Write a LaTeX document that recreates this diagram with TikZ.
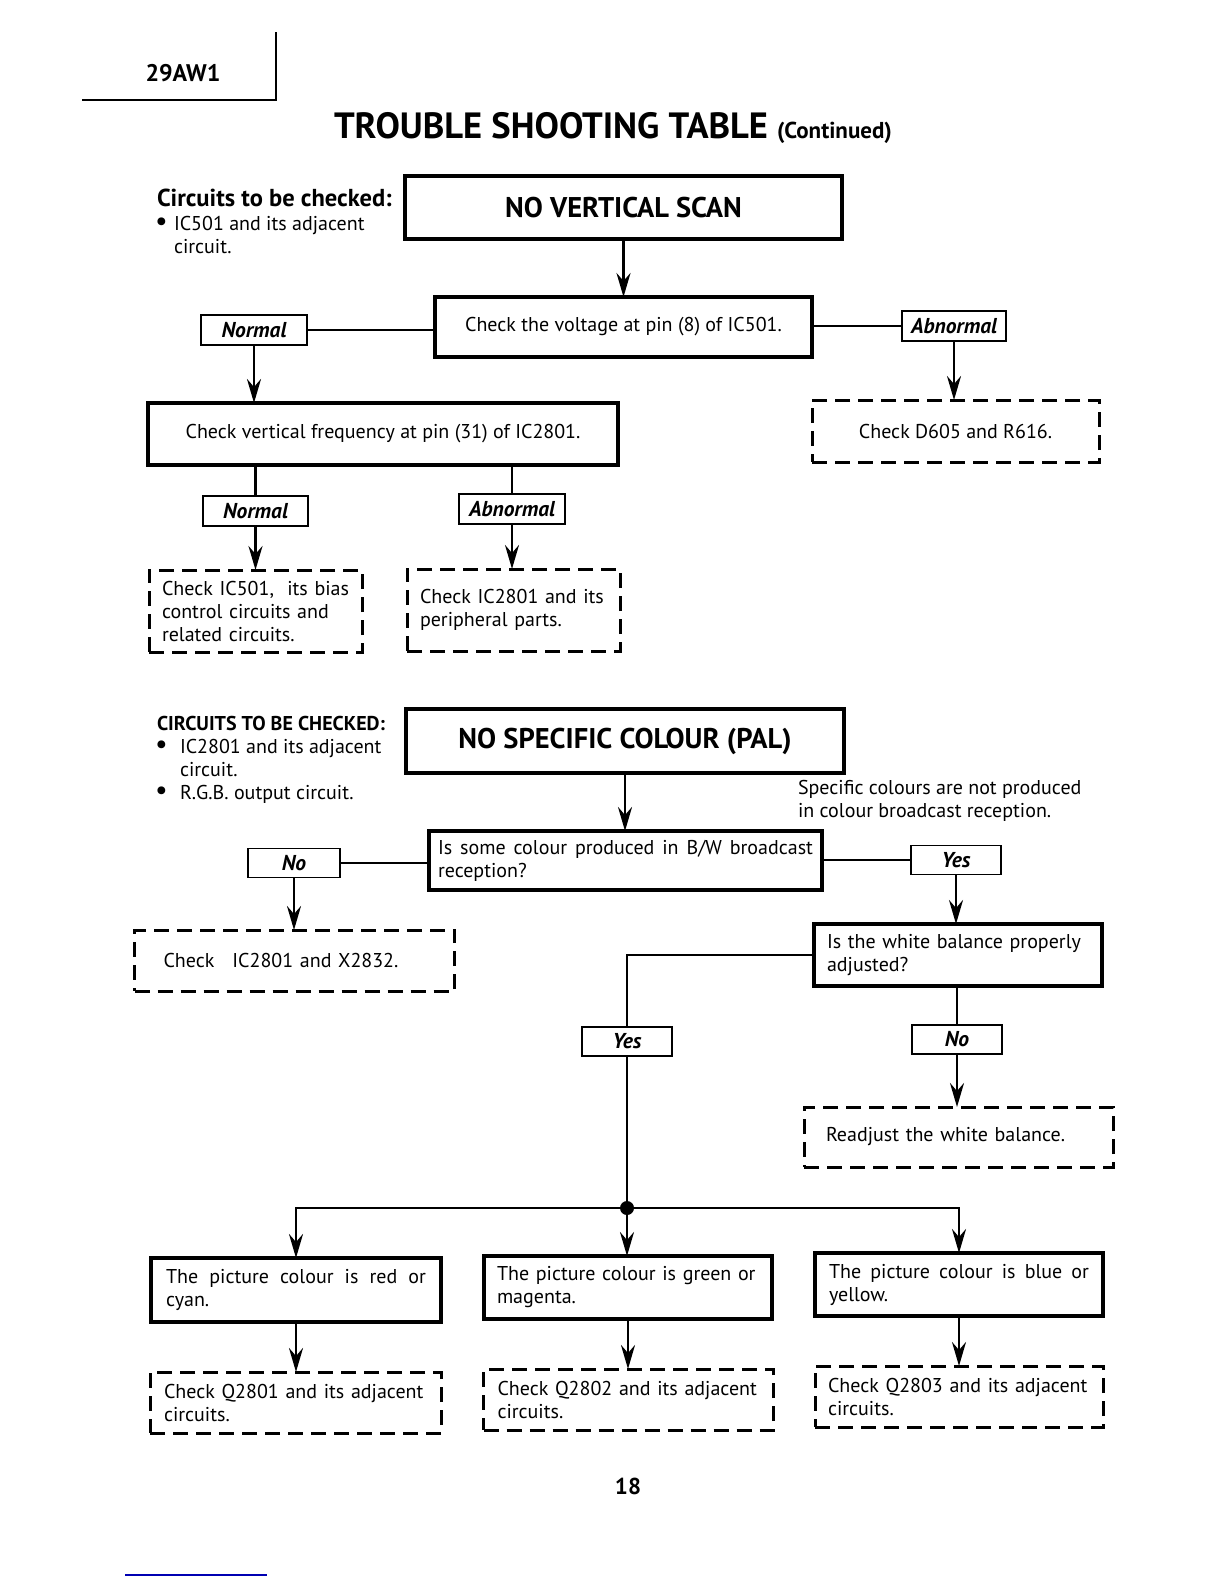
\documentclass[tikz,border=0pt]{standalone}
\usepackage{fontspec}
\setmainfont{PT Sans}
\usetikzlibrary{arrows.meta,calc}
\newcommand{\bodyf}{\fontsize{20}{23}\selectfont}
\newcommand{\tline}[1]{\mbox{#1}}
\newcommand{\bul}{{\fontsize{28}{23}\selectfont\textbullet}}
\begin{document}
\begin{tikzpicture}[x=1pt,y=-1pt,
  every node/.style={inner sep=0pt, outer sep=0pt},
  bigbox/.style={draw, line width=4pt, font=\fontsize{28.5}{32}\selectfont\bfseries, align=center},
  mbox/.style={draw, line width=3.2pt, font=\bodyf, align=left},
  lbl/.style={draw, line width=1.4pt, font=\fontsize{21.5}{24}\selectfont\bfseries\itshape, align=center},
  dbox/.style={draw, line width=3pt, dash pattern=on 15pt off 8pt, font=\bodyf, align=left},
  conn/.style={line width=2.8pt},
  arr/.style={conn, -{Stealth[length=24pt,width=14pt,inset=8pt]}},
  txt/.style={anchor=base west, font=\bodyf}
]
\useasboundingbox (0,0) rectangle (1224,1584);
\fill[white] (0,0) rectangle (1224,1584);

% header
\draw[line width=1.5pt] (82,100) -- (276,100) -- (276,32);
\node[anchor=base, font=\fontsize{24}{28}\selectfont\bfseries] (model) at (183,82) {29AW1};
\node[anchor=base west] (title) at (334,139) {\fontsize{36.5}{40}\selectfont\bfseries TROUBLE SHOOTING TABLE {\fontsize{23}{26}\selectfont (Continued)}};

% ===== Section 1 =====
\node[anchor=base west, font=\fontsize{24.5}{28}\selectfont\bfseries] (c1h) at (157,206) {Circuits to be checked:};
\node[txt] (c1b) at (155,230) {\bul};
\node[txt] (c1l1) at (174,230) {IC501 and its adjacent};
\node[txt] (c1l2) at (174,253) {circuit.};

\node[bigbox, minimum width=437pt, minimum height=63pt] (nvs) at (623.5,207.5) {NO VERTICAL SCAN};
\node[mbox, minimum width=377pt, minimum height=60pt, align=center] (cv) at (623.5,327) {Check the voltage at pin (8) of IC501.};
\node[lbl, minimum width=106pt, minimum height=30pt] (n1) at (254,330) {Normal};
\node[lbl, minimum width=104pt, minimum height=30pt] (a1) at (954,326) {Abnormal};
\node[dbox, minimum width=287pt, minimum height=62pt, align=center] (d605) at (955.5,431) {Check D605 and R616.};
\node[mbox, minimum width=470pt, minimum height=62pt, align=center] (cvf) at (383,434) {Check vertical frequency at pin (31) of IC2801.};
\node[lbl, minimum width=105pt, minimum height=30pt] (n2) at (255.5,511) {Normal};
\node[lbl, minimum width=106pt, minimum height=30pt] (a2) at (512,509) {Abnormal};
\node[dbox, minimum width=213pt, minimum height=82pt, text width=187pt, inner xsep=13pt] (d501) at (255.5,611) {\tline{Check IC501,\ \ its bias}\\\tline{control circuits and}\\\tline{related circuits.}};
\node[dbox, minimum width=213pt, minimum height=82pt, text width=187pt, inner xsep=13pt] (d2801) at (513.5,610) {\tline{Check IC2801 and its}\\\tline{peripheral parts.}};

\draw[arr] (nvs.south) -- (cv.north);
\draw[conn] (n1.east) -- (n1.east -| cv.west);
\draw[conn] (a1.west) -- (a1.west -| cv.east);
\draw[arr] (n1.south) -- (n1.south |- cvf.north);
\draw[arr] (a1.south) -- (a1.south |- d605.north);
\draw[conn] (n2.north |- cvf.south) -- (n2.north);
\draw[conn] (a2.north |- cvf.south) -- (a2.north);
\draw[arr] (n2.south) -- (n2.south |- d501.north);
\draw[arr] (a2.south) -- (a2.south |- d2801.north);

% ===== Section 2 =====
\node[anchor=base west, font=\fontsize{20}{23}\selectfont\bfseries] (c2h) at (157,730) {CIRCUITS TO BE CHECKED:};
\node[txt] (c2b1) at (155,753) {\bul};
\node[txt] (c2l1) at (180,753) {IC2801 and its adjacent};
\node[txt] (c2l2) at (180,776) {circuit.};
\node[txt] (c2b2) at (155,799) {\bul};
\node[txt] (c2l3) at (180,799) {R.G.B. output circuit.};
\node[txt] (spec1) at (798,794) {Specific colours are not produced};
\node[txt] (spec2) at (798,817) {in colour broadcast reception.};

\node[bigbox, minimum width=438pt, minimum height=64pt] (nsc) at (625,741) {NO SPECIFIC COLOUR (PAL)};
\node[mbox, minimum width=393pt, minimum height=59pt, text width=375pt, inner xsep=9pt, align=justify] (some) at (625.5,860.5) {Is some colour produced in B/W broadcast\linebreak reception?};
\node[lbl, minimum width=92pt, minimum height=29pt] (no1) at (294,863) {No};
\node[dbox, minimum width=291pt, minimum height=61pt, text width=262pt, inner xsep=29pt] (dx) at (294.5,960.5) {\tline{Check\hspace{0.9em}IC2801 and X2832.}};
\node[lbl, minimum width=90pt, minimum height=29pt] (yes1) at (956,860) {Yes};
\node[mbox, minimum width=288pt, minimum height=62pt, text width=262pt, inner xsep=13pt] (wb) at (958,955) {\tline{Is the white balance properly}\\\tline{adjusted?}};
\node[lbl, minimum width=90pt, minimum height=29pt] (yes2) at (627,1041.5) {Yes};
\node[lbl, minimum width=90pt, minimum height=29pt] (no2) at (957,1039.5) {No};
\node[dbox, minimum width=287pt, minimum height=60pt, text width=265pt, inner xsep=22pt] (rw) at (958.5,1137) {\tline{Readjust the white balance.}};
\coordinate (j) at (627,1208);

\node[mbox, minimum width=290pt, minimum height=64pt, text width=260pt, inner xsep=14pt, align=justify] (pa) at (296,1290) {The picture colour is red or\linebreak cyan.};
\node[mbox, minimum width=288pt, minimum height=63pt, text width=262pt, inner xsep=13pt] (pb) at (628,1287.5) {\tline{The picture colour is green or}\\\tline{magenta.}};
\node[mbox, minimum width=288pt, minimum height=63pt, text width=260pt, inner xsep=13pt, align=justify] (pc) at (959,1284.5) {The picture colour is blue or\linebreak yellow.};
\node[dbox, minimum width=291pt, minimum height=61pt, text width=263pt, inner xsep=14pt] (qa) at (295.5,1402.5) {\tline{Check Q2801 and its adjacent}\\\tline{circuits.}};
\node[dbox, minimum width=289pt, minimum height=61pt, text width=262pt, inner xsep=14pt] (qb) at (628.5,1399.5) {\tline{Check Q2802 and its adjacent}\\\tline{circuits.}};
\node[dbox, minimum width=288pt, minimum height=61pt, text width=262pt, inner xsep=13pt] (qc) at (959,1396.5) {\tline{Check Q2803 and its adjacent}\\\tline{circuits.}};

\draw[arr] (nsc.south) -- (nsc.south |- some.north);
\draw[conn] (no1.east) -- (no1.east -| some.west);
\draw[conn] (yes1.west) -- (yes1.west -| some.east);
\draw[arr] (no1.south) -- (no1.south |- dx.north);
\draw[arr] (yes1.south) -- (yes1.south |- wb.north);
\draw[conn, line join=miter] (wb.west) -- (yes2.north |- wb.west) -- (yes2.north);
\draw[conn] (no2.north |- wb.south) -- (no2.north);
\draw[arr] (no2.south) -- (no2.south |- rw.north);
\draw[conn] (yes2.south) -- (j);
\draw[arr, line join=miter] (j) -| (pa.north);
\draw[arr, line join=miter] (j) -| (pc.north);
\draw[arr] (j) -- (j |- pb.north);
\fill (j) circle (7pt);
\draw[arr] (pa.south) -- (pa.south |- qa.north);
\draw[arr] (pb.south) -- (pb.south |- qb.north);
\draw[arr] (pc.south) -- (pc.south |- qc.north);

% page number
\node[anchor=base, font=\fontsize{23}{26}\selectfont\bfseries] (pg) at (628,1494) {18};
\draw[blue!70!black, line width=1.2pt] (125,1575) -- (267,1575);
\end{tikzpicture}
\end{document}
